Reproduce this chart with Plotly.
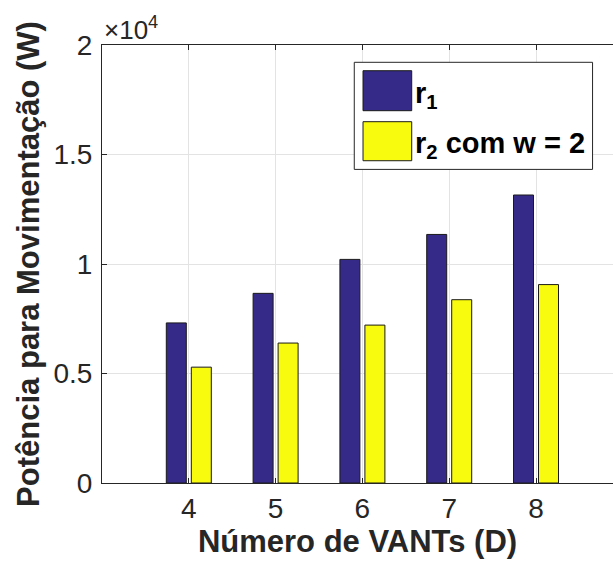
import plotly.graph_objects as go

# Data
categories = [4, 5, 6, 7, 8]
r1_values = [7310, 8660, 10210, 11350, 13150]
r2_values = [5290, 6390, 7210, 8370, 9060]
series_names = ["r<sub>1</sub>", "r<sub>2</sub> com w = 2"]
ytick_vals = [0, 5000, 10000, 15000, 20000]
ytick_text = ["0", "0.5", "1", "1.5", "2"]

blue = "#352A87"
yellow = "#F9FB0E"
axis_col = "#262626"
font_fam = "Liberation Sans, Arial, Helvetica, sans-serif"

fig = go.Figure()
fig.add_trace(go.Bar(x=categories, y=r1_values, name=series_names[0],
                     marker=dict(color=blue, line=dict(color="#1a1a1a", width=1)),
                     showlegend=False))
fig.add_trace(go.Bar(x=categories, y=r2_values, name=series_names[1],
                     marker=dict(color=yellow, line=dict(color="#1a1a1a", width=1)),
                     showlegend=False))

fig.update_layout(
    width=613, height=571,
    margin=dict(l=102, r=0, t=45, b=88),
    paper_bgcolor="white", plot_bgcolor="white",
    barmode="group", bargap=0.424, bargroupgap=0.2,
    font=dict(family=font_fam, color=axis_col),
)
fig.update_xaxes(
    range=[3, 8.887], tickvals=categories, ticktext=[str(c) for c in categories],
    ticks="inside", ticklen=5, tickcolor=axis_col, tickwidth=1,
    showline=True, linecolor=axis_col, linewidth=1, mirror="ticks",
    showgrid=True, gridcolor="#e3e3e3", gridwidth=1,
    tickfont=dict(size=28, color=axis_col),
    title=dict(text="<b>Número de VANTs (D)</b>", font=dict(size=31, color=axis_col), standoff=1),
    zeroline=False,
)
fig.update_yaxes(
    range=[0, 20000], tickvals=ytick_vals, ticktext=ytick_text,
    ticks="inside", ticklen=5, tickcolor=axis_col, tickwidth=1,
    showline=True, linecolor=axis_col, linewidth=1, mirror=False,
    showgrid=True, gridcolor="#e3e3e3", gridwidth=1,
    tickfont=dict(size=28, color=axis_col), ticklabelstandoff=3,
    title=dict(text="<b>Potência para Movimentação (W)</b>", font=dict(size=31, color=axis_col), standoff=4),
    zeroline=False,
)

# exponent label
fig.add_annotation(x=0.0, y=1.0, xref="paper", yref="paper", xanchor="left", yanchor="bottom",
                   text="×10<sup>4</sup>", showarrow=False, font=dict(size=26, color=axis_col), yshift=-2)

# custom legend (MATLAB style large swatches)
fig.add_shape(type="rect", xref="paper", yref="paper", x0=0.4937, x1=0.960, y0=0.716, y1=0.9605,
              line=dict(color=axis_col, width=1), fillcolor="white", layer="above")
legend_rows = [(blue, 0.9413, 0.85, series_names[0]), (yellow, 0.8249, 0.7358, series_names[1])]
for col, ya, yb, name in legend_rows:
    fig.add_shape(type="rect", xref="paper", yref="paper", x0=0.5108, x1=0.6061, y0=yb, y1=ya,
                  line=dict(color="#1a1a1a", width=1), fillcolor=col, layer="above")
    fig.add_annotation(x=0.6125, y=(ya + yb) / 2, xref="paper", yref="paper", xanchor="left",
                       yanchor="middle", text="<b>" + name + "</b>", showarrow=False,
                       font=dict(size=29, color="black"), yshift=-4, xshift=-2)

fig.write_html("out.html")
